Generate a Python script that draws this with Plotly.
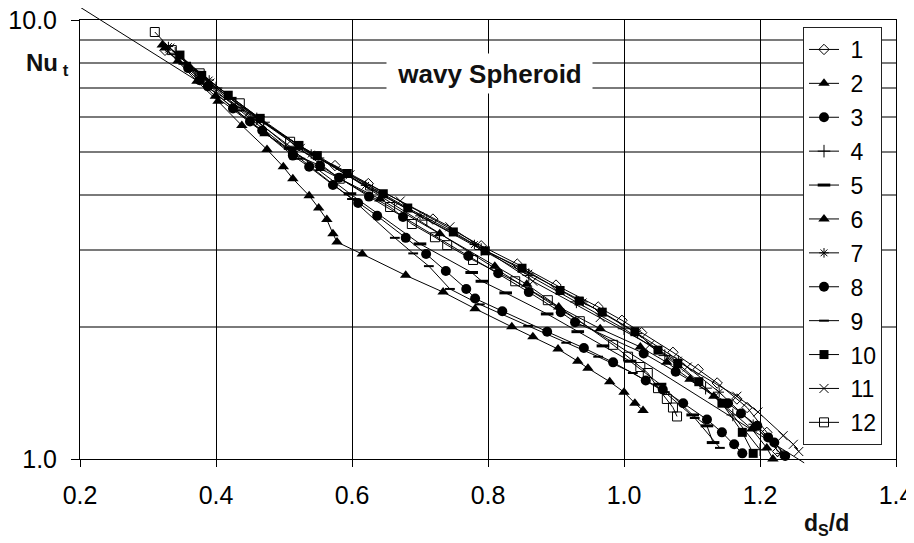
import math
import plotly.graph_objects as go

# ---------------- data ----------------
series_names = ["1", "2", "3", "4", "5", "6", "7", "8", "9", "10", "11", "12"]

x1 = [0.325, 0.376, 0.450, 0.509, 0.575, 0.624, 0.719, 0.790, 0.843, 0.900, 0.962, 0.997, 1.026, 1.072, 1.109, 1.137, 1.166, 1.181, 1.210, 1.226]
y1 = [8.53, 7.45, 6.03, 5.15, 4.66, 4.24, 3.52, 3.06, 2.78, 2.49, 2.22, 2.07, 1.94, 1.75, 1.60, 1.49, 1.37, 1.31, 1.15, 1.04]

x2 = [0.325, 0.399, 0.472, 0.553, 0.641, 0.729, 0.810, 0.857, 0.904, 0.965, 1.024, 1.063, 1.097, 1.132, 1.188, 1.210, 1.219]
y2 = [8.63, 6.70, 5.51, 4.59, 3.91, 3.26, 2.75, 2.50, 2.22, 1.98, 1.80, 1.66, 1.52, 1.39, 1.17, 1.06, 1.00]

x3 = [0.376, 0.450, 0.513, 0.553, 0.581, 0.625, 0.675, 0.771, 0.815, 0.860, 0.907, 0.928, 1.029, 1.076, 1.153, 1.172, 1.196, 1.212, 1.221, 1.237]
y3 = [7.29, 5.87, 4.96, 4.66, 4.37, 3.96, 3.56, 2.90, 2.65, 2.40, 2.16, 2.05, 1.74, 1.58, 1.34, 1.27, 1.19, 1.12, 1.09, 1.016]

x4 = [0.34, 0.40, 0.47, 0.55, 0.63, 0.71, 0.79, 0.86, 0.93, 1.00, 1.06, 1.12, 1.16, 1.20]
y4 = [8.4, 7.0, 5.85, 4.85, 4.1, 3.5, 3.0, 2.62, 2.28, 1.98, 1.72, 1.45, 1.26, 1.05]

x5 = [0.354, 0.421, 0.509, 0.597, 0.700, 0.776, 0.791, 0.826, 0.887, 0.932, 0.969, 1.009, 1.053, 1.101, 1.122, 1.131]
y5 = [7.97, 6.63, 5.10, 4.02, 3.09, 2.66, 2.54, 2.39, 2.14, 1.95, 1.81, 1.67, 1.48, 1.26, 1.19, 1.09]

x6 = [0.321, 0.344, 0.372, 0.403, 0.438, 0.475, 0.499, 0.513, 0.537, 0.551, 0.563, 0.572, 0.578, 0.615, 0.679, 0.734, 0.781, 0.835, 0.866, 0.903, 0.932, 0.947, 0.979, 1.000, 1.016, 1.028]
y6 = [8.77, 8.06, 7.25, 6.53, 5.75, 5.07, 4.63, 4.35, 3.98, 3.73, 3.51, 3.26, 3.12, 2.93, 2.62, 2.40, 2.20, 2.00, 1.90, 1.78, 1.67, 1.61, 1.50, 1.42, 1.34, 1.29]

x7 = [0.33, 0.39, 0.46, 0.54, 0.62, 0.70, 0.78, 0.86, 0.94, 1.02, 1.08, 1.14, 1.19, 1.23]
y7 = [8.7, 7.3, 6.0, 4.95, 4.2, 3.58, 3.08, 2.65, 2.28, 1.93, 1.68, 1.42, 1.2, 1.03]

x8 = [0.359, 0.388, 0.425, 0.468, 0.513, 0.537, 0.572, 0.609, 0.637, 0.679, 0.709, 0.738, 0.768, 0.781, 0.821, 0.887, 0.941, 0.984, 1.032, 1.057, 1.087, 1.122, 1.144, 1.162, 1.174]
y8 = [7.77, 7.06, 6.29, 5.60, 4.91, 4.63, 4.21, 3.83, 3.58, 3.19, 2.93, 2.68, 2.44, 2.32, 2.17, 1.95, 1.79, 1.66, 1.51, 1.44, 1.34, 1.23, 1.15, 1.08, 1.03]

x9 = [0.362, 0.435, 0.524, 0.600, 0.663, 0.690, 0.713, 0.744, 0.788, 0.859, 0.915, 0.962, 1.013, 1.060, 1.104, 1.141]
y9 = [7.68, 6.22, 4.83, 3.91, 3.19, 2.94, 2.75, 2.44, 2.25, 2.01, 1.84, 1.71, 1.57, 1.42, 1.24, 1.06]

x10 = [0.347, 0.379, 0.418, 0.465, 0.522, 0.549, 0.593, 0.646, 0.682, 0.749, 0.796, 0.850, 0.906, 0.934, 0.968, 1.016, 1.050, 1.079, 1.110, 1.144, 1.174, 1.190]
y10 = [8.32, 7.48, 6.74, 5.97, 5.18, 4.91, 4.47, 4.02, 3.73, 3.29, 2.98, 2.72, 2.42, 2.29, 2.16, 1.95, 1.77, 1.65, 1.50, 1.34, 1.15, 1.03]

x11 = [0.332, 0.391, 0.465, 0.524, 0.597, 0.671, 0.744, 0.866, 0.965, 1.038, 1.093, 1.166, 1.197, 1.234, 1.249, 1.257]
y11 = [8.63, 7.18, 5.90, 5.10, 4.44, 3.87, 3.38, 2.54, 2.10, 1.82, 1.62, 1.39, 1.28, 1.13, 1.08, 1.04]

x12 = [0.310, 0.335, 0.376, 0.435, 0.509, 0.582, 0.656, 0.688, 0.722, 0.740, 0.778, 0.840, 0.888, 0.935, 0.984, 1.006, 1.024, 1.035, 1.050, 1.063, 1.072, 1.078]
y12 = [9.39, 8.54, 7.56, 6.46, 5.28, 4.35, 3.75, 3.43, 3.20, 3.07, 2.84, 2.54, 2.30, 2.06, 1.82, 1.71, 1.62, 1.57, 1.45, 1.37, 1.31, 1.25]

# straight reference line (end points)
ref_x = [0.2, 1.265]
ref_y = [10.7, 0.98]

x_ticks = [0.2, 0.4, 0.6, 0.8, 1.0, 1.2, 1.4]
x_ticktext = ["0.2", "0.4", "0.6", "0.8", "1.0", "1.2", "1.4"]
y_ticks = [1, 10]
y_ticktext = ["1.0", "10.0"]
y_minor = [2, 3, 4, 5, 6, 7, 8, 9]

xs = [x1, x2, x3, x4, x5, x6, x7, x8, x9, x10, x11, x12]
ys = [y1, y2, y3, y4, y5, y6, y7, y8, y9, y10, y11, y12]

# ---------------- styling ----------------
FONT = "Liberation Sans, Arial, sans-serif"
styles = [
    dict(symbol="diamond-open", size=8, lw=1),
    dict(symbol="triangle-up", size=10, lw=0),
    dict(symbol="circle", size=10, lw=0),
    dict(symbol="cross-thin-open", size=9, lw=1),
    dict(symbol="line-ew-open", size=9, lw=3),
    dict(symbol="triangle-up", size=10, lw=0),
    dict(symbol="asterisk-open", size=8, lw=1),
    dict(symbol="circle", size=10, lw=0),
    dict(symbol="line-ew-open", size=7, lw=2),
    dict(symbol="square", size=9, lw=0),
    dict(symbol="x-thin-open", size=9, lw=1),
    dict(symbol="square-open", size=9, lw=1),
]

fig = go.Figure()
for i, (name, xv, yv, st) in enumerate(zip(series_names, xs, ys, styles)):
    fig.add_trace(go.Scatter(
        x=xv, y=yv, name=" " + name, mode="lines+markers",
        line=dict(color="black", width=1),
        marker=dict(symbol=st["symbol"], size=st["size"], color="black",
                    line=dict(color="black", width=st["lw"])),
        legendgroup="g" + name,
        cliponaxis=False,
    ))

# straight line drawn as paper-referenced shape so it may leave the plot top
X0, X1 = 0.2, 1.4
px = [(v - X0) / (X1 - X0) for v in ref_x]
py = [math.log10(v) for v in ref_y]
fig.add_shape(type="line", xref="paper", yref="paper",
              x0=px[0], y0=py[0], x1=px[1], y1=py[1],
              line=dict(color="black", width=1), layer="above")

# page body has an 8px margin -> figure is 906x535 and margins offset by 8px
fig.update_layout(
    width=906, height=535,
    margin=dict(l=72, r=18, t=12, b=84, autoexpand=False),
    paper_bgcolor="white", plot_bgcolor="white",
    font=dict(family=FONT, color="black"),
    showlegend=True,
    legend=dict(
        x=(803 - 80) / 816, y=(459 - 27) / 439, xanchor="left", yanchor="top",
        bgcolor="white", bordercolor="#222", borderwidth=1,
        font=dict(size=23, family=FONT, color="black"),
        traceorder="grouped", tracegroupgap=1,
        itemwidth=30,
    ),
    xaxis=dict(
        range=[X0, X1], tickmode="array", tickvals=x_ticks, ticktext=x_ticktext,
        showgrid=True, gridcolor="black", gridwidth=1,
        showline=True, linecolor="black", linewidth=1, mirror=True,
        ticks="outside", ticklen=7, tickcolor="black",
        tickfont=dict(size=25, family=FONT), ticklabelstandoff=7,
        ticklabeloverflow="allow",
        zeroline=False, automargin=False,
    ),
    yaxis=dict(
        type="log", range=[0, 1], tickmode="array", tickvals=y_ticks, ticktext=y_ticktext,
        showgrid=True, gridcolor="black", gridwidth=1,
        showline=True, linecolor="black", linewidth=1, mirror=True,
        ticks="outside", ticklen=8, tickcolor="black",
        tickfont=dict(size=25, family=FONT), ticklabelstandoff=9,
        ticklabeloverflow="allow",
        minor=dict(tickmode="array", tickvals=y_minor, showgrid=True,
                   gridcolor="#7a7a7a", gridwidth=1.5, ticks=""),
        zeroline=False, automargin=False,
    ),
)

fig.add_annotation(
    text="<b>wavy Spheroid</b>", xref="paper", yref="paper",
    x=(489 - 80) / 816, y=(459 - 52.5) / 439, showarrow=False,
    font=dict(size=26, family=FONT, color="#111"),
    bgcolor="white", width=201, height=35, borderpad=2,
)
fig.add_annotation(
    text="<b>Nu<sub> t</sub></b>", xref="paper", yref="paper",
    x=(71 - 80) / 816, y=(459 - 64) / 439, xanchor="right", yanchor="middle",
    showarrow=False, font=dict(size=24, family=FONT, color="#111"),
)
fig.add_annotation(
    text="<b>d<sub>S</sub>/d</b>", xref="paper", yref="paper",
    x=(826 - 80) / 816, y=(459 - 524) / 439, xanchor="center", yanchor="middle",
    showarrow=False, font=dict(size=23, family=FONT, color="#111"),
)

fig.write_html("out.html")
